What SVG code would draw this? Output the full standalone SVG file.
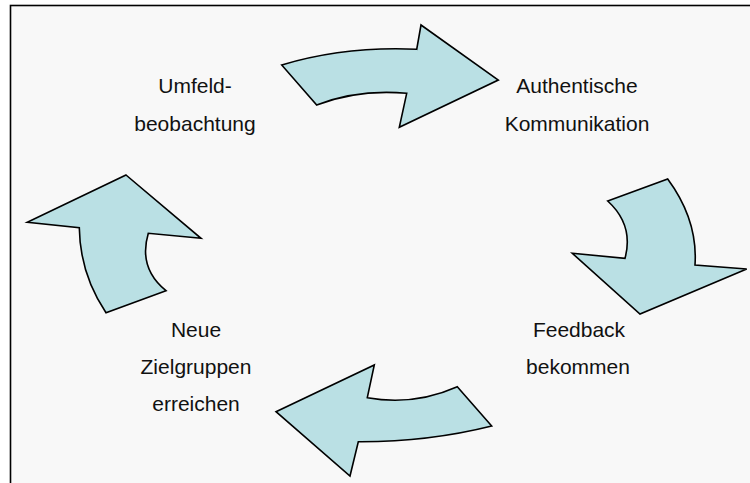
<svg xmlns="http://www.w3.org/2000/svg" width="750" height="483" viewBox="0 0 750 483">
<style>
.arrow{fill:#bae0e4;stroke:#000;stroke-width:1.6;stroke-linejoin:miter}
.lbl{font-family:"Liberation Sans",Arial,sans-serif;font-size:21px;fill:#111;text-anchor:middle}
</style>
<rect x="0" y="0" width="750" height="483" fill="#ffffff"/>
<rect x="10.5" y="5.5" width="760" height="500" fill="#f8f8f8" stroke="#000" stroke-width="1.6"/>
<g id="connectors">
<path id="arrow-top" class="arrow" d="M281.7,65 Q345,46 416.7,49.3 L421,25 L498.3,80 L399.3,127.3 L406.7,93.3 Q358,89 316.7,105 Z"/>
<path id="arrow-right" class="arrow" d="M607.7,201 L667.7,179 Q698,220 695,265 L746.7,269 L640,314 L572.3,253.3 L625,258.3 Q634,225 607.7,201 Z"/>
<path id="arrow-bottom" class="arrow" d="M457.3,386.7 L491.7,426 Q428,442 358.3,441.7 L350,476 L276,411.7 L374.3,365 L367.3,397.7 Q414,406 457.3,386.7 Z"/>
<path id="arrow-left" class="arrow" d="M126,175 L201,238.3 L148.3,233.3 Q138,268 166,290.7 L106,312.7 Q80,274 79.3,227.7 L27.3,222.3 Z"/>
</g>
<g id="node-umfeld">
<text class="lbl" x="195" y="93">Umfeld-</text>
<text class="lbl" x="195" y="131">beobachtung</text>
</g>
<g id="node-authentisch">
<text class="lbl" x="577" y="93">Authentische</text>
<text class="lbl" x="577" y="131">Kommunikation</text>
</g>
<g id="node-feedback">
<text class="lbl" x="579" y="337">Feedback</text>
<text class="lbl" x="578" y="374">bekommen</text>
</g>
<g id="node-zielgruppen">
<text class="lbl" x="196" y="337">Neue</text>
<text class="lbl" x="196" y="374">Zielgruppen</text>
<text class="lbl" x="196" y="411">erreichen</text>
</g>
</svg>
